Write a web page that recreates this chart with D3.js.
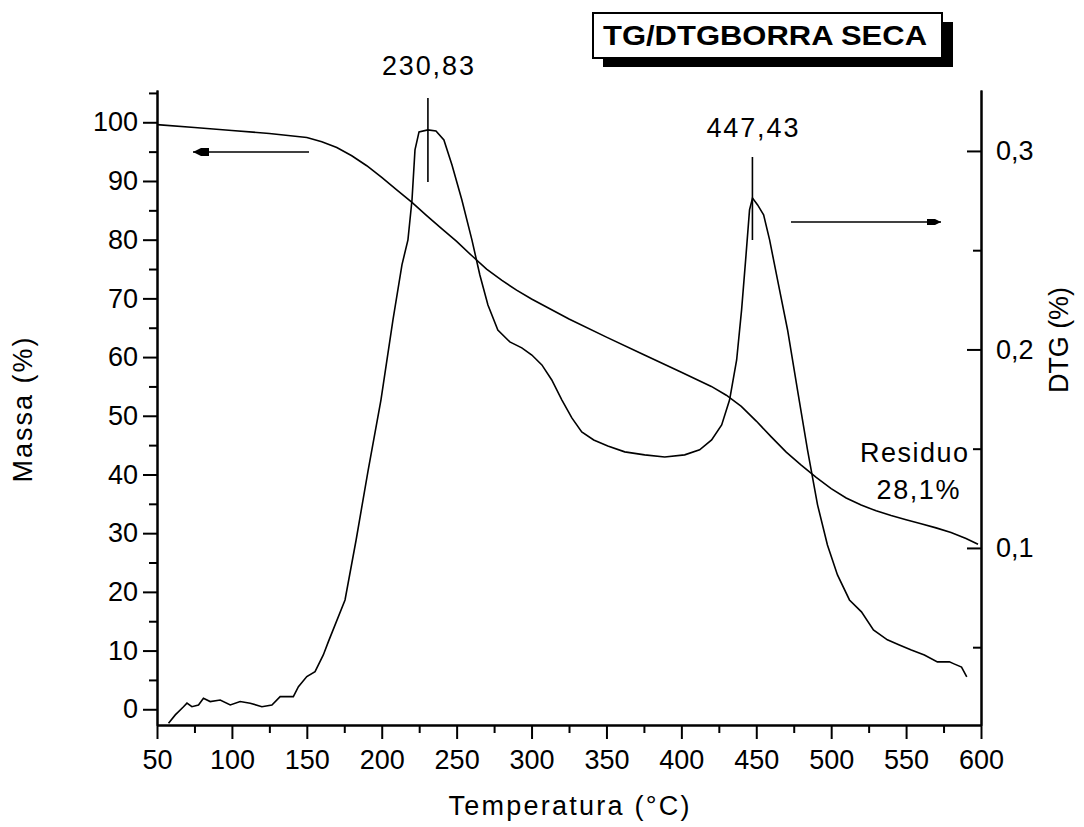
<!DOCTYPE html>
<html>
<head>
<meta charset="utf-8">
<script src="https://cdn.jsdelivr.net/npm/d3@7"></script>
<style>
  body { margin: 0; background: #fff; }
  svg text { font-family: Arial, "Liberation Sans", sans-serif; fill: #000; }
</style>
</head>
<body>
<div id="chart"></div>
<script>
// TG curve (left axis, mass %)
const tgTemp = [50, 75, 100, 125, 150, 160, 170, 180, 190, 200, 210, 220, 230, 240, 250, 260, 270, 280, 290, 300,
  325, 350, 375, 400, 420, 430, 440, 450, 460, 470, 480, 490, 500, 510, 520, 530, 540, 550, 560, 570, 580, 590, 598];
const tgMass = [99.6, 99.1, 98.6, 98.1, 97.4, 96.7, 95.7, 94.3, 92.6, 90.6, 88.5, 86.4, 84.1, 81.9, 79.7, 77.3, 75.0, 73.1, 71.4, 69.9,
  66.5, 63.4, 60.4, 57.4, 55.0, 53.5, 51.6, 49.1, 46.4, 43.8, 41.6, 39.5, 37.6, 36.0, 34.8, 33.8, 33.0, 32.3, 31.6, 30.9, 30.1, 29.1, 28.1];

// DTG curve (right axis)
const dtgTemp = [57.7, 62.2, 67.7, 70, 73.3, 77.7, 81, 85.5, 92.2, 98.9, 105.5, 112.2, 120, 126.7, 132.2, 141, 144.4, 150, 155.5, 161, 164.4,
  175.5, 182.9, 190.9, 199.5, 207.5, 213.5, 217.5, 220.2, 222.2, 224.9, 230.8, 236.2, 241.5, 246.9, 253.5, 260.2, 265.5, 270.9, 277.5,
  285.5, 293.5, 300.2, 306.9, 313.5, 320.2, 326.9, 333.5, 341.5, 350.9, 362.2, 375.5, 388.9, 402.2, 412.2, 420.2, 426.9, 432.2, 436.9,
  440.2, 442.9, 445.5, 447.5, 450.9, 454.9, 458.9, 464.2, 470.9, 477.5, 484.2, 490.9, 497.5, 504.2, 512.2, 520.2, 528.2, 537.5, 545.5,
  553.5, 562.2, 570.9, 578.9, 582, 587, 590.5];
const dtgVal = [0.0117, 0.0159, 0.0200, 0.0218, 0.0200, 0.0209, 0.0243, 0.0226, 0.0234, 0.0209, 0.0226, 0.0218, 0.0200, 0.0209, 0.0251, 0.0251, 0.0301, 0.0352, 0.0377, 0.0461, 0.0528,
  0.0738, 0.104, 0.139, 0.1746, 0.2149, 0.2426, 0.2552, 0.2753, 0.3005, 0.3096, 0.3106, 0.3101, 0.3055, 0.2929, 0.2753, 0.2552, 0.2375, 0.2224, 0.2098,
  0.2038, 0.2008, 0.1972, 0.1922, 0.1846, 0.1746, 0.1655, 0.1584, 0.1544, 0.1514, 0.1484, 0.1469, 0.1458, 0.1469, 0.1494, 0.1544, 0.1620, 0.1746, 0.1947,
  0.2199, 0.2451, 0.2703, 0.2763, 0.2728, 0.2678, 0.2552, 0.2350, 0.2098, 0.1796, 0.1494, 0.1217, 0.1015, 0.0864, 0.0738, 0.0678, 0.0587, 0.0537, 0.0511,
  0.0486, 0.0461, 0.0426, 0.0426, 0.0416, 0.0400, 0.0350];

// ticks
const xMajor = [50, 100, 150, 200, 250, 300, 350, 400, 450, 500, 550, 600];
const xMinor = [75, 125, 175, 225, 275, 325, 375, 425, 475, 525, 575];
const massMajor = [0, 10, 20, 30, 40, 50, 60, 70, 80, 90, 100];
const massMinor = [5, 15, 25, 35, 45, 55, 65, 75, 85, 95, 105];
const dtgMajor = [0.1, 0.2, 0.3];
const dtgMinor = [0.05, 0.15, 0.25];

// peak annotations
const peakTemps = [230.83, 447.43];
const peakLabels = ["230,83", "447,43"];

const W = 1084, H = 827;
const svg = d3.select("#chart").append("svg").attr("width", W).attr("height", H);

const x = d3.scaleLinear().domain([50, 600]).range([157, 981]);
const yMass = d3.scaleLinear().domain([-2.68, 105.5]).range([725, 90]);
const yDtg = d3.scaleLinear().domain([0.0108, 0.3307]).range([725, 90]);

const comma = d => String(d).replace(".", ",");
const fs = "27px";

function styleAxis(g) {
  g.select(".domain").attr("stroke", "#000").attr("stroke-width", 2);
  g.selectAll(".tick line").attr("stroke", "#000").attr("stroke-width", 2);
  g.selectAll("text").style("font-size", fs).attr("font-family", null);
}

// x axis
svg.append("g").attr("transform", "translate(0,725)")
  .call(d3.axisBottom(x).tickValues(xMajor).tickSize(14).tickSizeOuter(0).tickPadding(11))
  .call(styleAxis);
svg.append("g").attr("transform", "translate(0,725)")
  .call(d3.axisBottom(x).tickValues(xMinor).tickSize(8).tickSizeOuter(0).tickFormat(""))
  .call(styleAxis);

// left axis
svg.append("g").attr("transform", "translate(157,0)")
  .call(d3.axisLeft(yMass).tickValues(massMajor).tickSize(14).tickSizeOuter(0).tickPadding(5))
  .call(styleAxis);
svg.append("g").attr("transform", "translate(157,0)")
  .call(d3.axisLeft(yMass).tickValues(massMinor).tickSize(8).tickSizeOuter(0).tickFormat(""))
  .call(styleAxis);

// right axis, ticks pointing inward
svg.append("g").attr("transform", "translate(981,0)")
  .call(d3.axisRight(yDtg).tickValues(dtgMajor).tickSize(-14).tickSizeOuter(0).tickPadding(15).tickFormat(comma))
  .call(styleAxis);
svg.append("g").attr("transform", "translate(981,0)")
  .call(d3.axisRight(yDtg).tickValues(dtgMinor).tickSize(-8).tickSizeOuter(0).tickFormat(""))
  .call(styleAxis);

// curves
const tgData = tgTemp.map((t, i) => [t, tgMass[i]]);
const dtgData = dtgTemp.map((t, i) => [t, dtgVal[i]]);

svg.append("path").datum(tgData)
  .attr("fill", "none").attr("stroke", "#000").attr("stroke-width", 1.6)
  .attr("d", d3.line().x(d => x(d[0])).y(d => yMass(d[1])));

svg.append("path").datum(dtgData)
  .attr("fill", "none").attr("stroke", "#000").attr("stroke-width", 1.6)
  .attr("d", d3.line().x(d => x(d[0])).y(d => yDtg(d[1])));

// peak markers
const peakLines = [[98, 182], [157, 240]];
const labelY = [75, 137];
peakTemps.forEach((t, i) => {
  svg.append("line")
    .attr("x1", x(t)).attr("x2", x(t))
    .attr("y1", peakLines[i][0]).attr("y2", peakLines[i][1])
    .attr("stroke", "#000").attr("stroke-width", 1.6);
  svg.append("text")
    .attr("x", x(t)).attr("y", labelY[i])
    .attr("text-anchor", "middle").style("font-size", fs)
    .attr("textLength", 92).attr("lengthAdjust", "spacing")
    .text(peakLabels[i]);
});

// arrows
function arrow(x1, x2, y, dir) {
  svg.append("line").attr("x1", x1).attr("x2", x2).attr("y1", y).attr("y2", y)
    .attr("stroke", "#000").attr("stroke-width", 1.6);
  const tip = dir < 0 ? x1 : x2;
  const d = dir < 0
    ? `M${tip},${y} L${tip + 8},${y - 4} L${tip + 16},${y - 4} L${tip + 16},${y + 4} L${tip + 8},${y + 4} Z`
    : `M${tip},${y} L${tip - 6},${y - 3} L${tip - 14},${y - 3} L${tip - 14},${y + 3} L${tip - 6},${y + 3} Z`;
  svg.append("path").attr("d", d).attr("fill", "#000");
}
arrow(193, 309, 152, -1);
arrow(791, 941, 222, 1);

// residue label
svg.append("text").attr("x", 914).attr("y", 462).attr("text-anchor", "middle")
  .style("font-size", fs).attr("textLength", 108).attr("lengthAdjust", "spacing").text("Residuo");
svg.append("text").attr("x", 918).attr("y", 499).attr("text-anchor", "middle")
  .style("font-size", fs).attr("textLength", 83).attr("lengthAdjust", "spacing").text("28,1%");

// axis titles
svg.append("text").attr("x", 569).attr("y", 815).attr("text-anchor", "middle")
  .style("font-size", fs).attr("textLength", 241).attr("lengthAdjust", "spacing")
  .text("Temperatura (°C)");
svg.append("text").attr("transform", "translate(32,410) rotate(-90)").attr("text-anchor", "middle")
  .style("font-size", fs).attr("textLength", 145).attr("lengthAdjust", "spacing")
  .text("Massa (%)");
svg.append("text").attr("transform", "translate(1068,340) rotate(-90)").attr("text-anchor", "middle")
  .style("font-size", fs).attr("textLength", 106).attr("lengthAdjust", "spacing")
  .text("DTG (%)");

// title box with shadow
svg.append("rect").attr("x", 603).attr("y", 22).attr("width", 350).attr("height", 45).attr("fill", "#000");
svg.append("rect").attr("x", 593).attr("y", 13).attr("width", 349).attr("height", 45)
  .attr("fill", "#fff").attr("stroke", "#000").attr("stroke-width", 2);
svg.append("text").attr("x", 765).attr("y", 45).attr("text-anchor", "middle")
  .style("font-size", "28px").style("font-weight", "bold")
  .attr("textLength", 324).attr("lengthAdjust", "spacingAndGlyphs")
  .text("TG/DTGBORRA SECA");
</script>
</body>
</html>
